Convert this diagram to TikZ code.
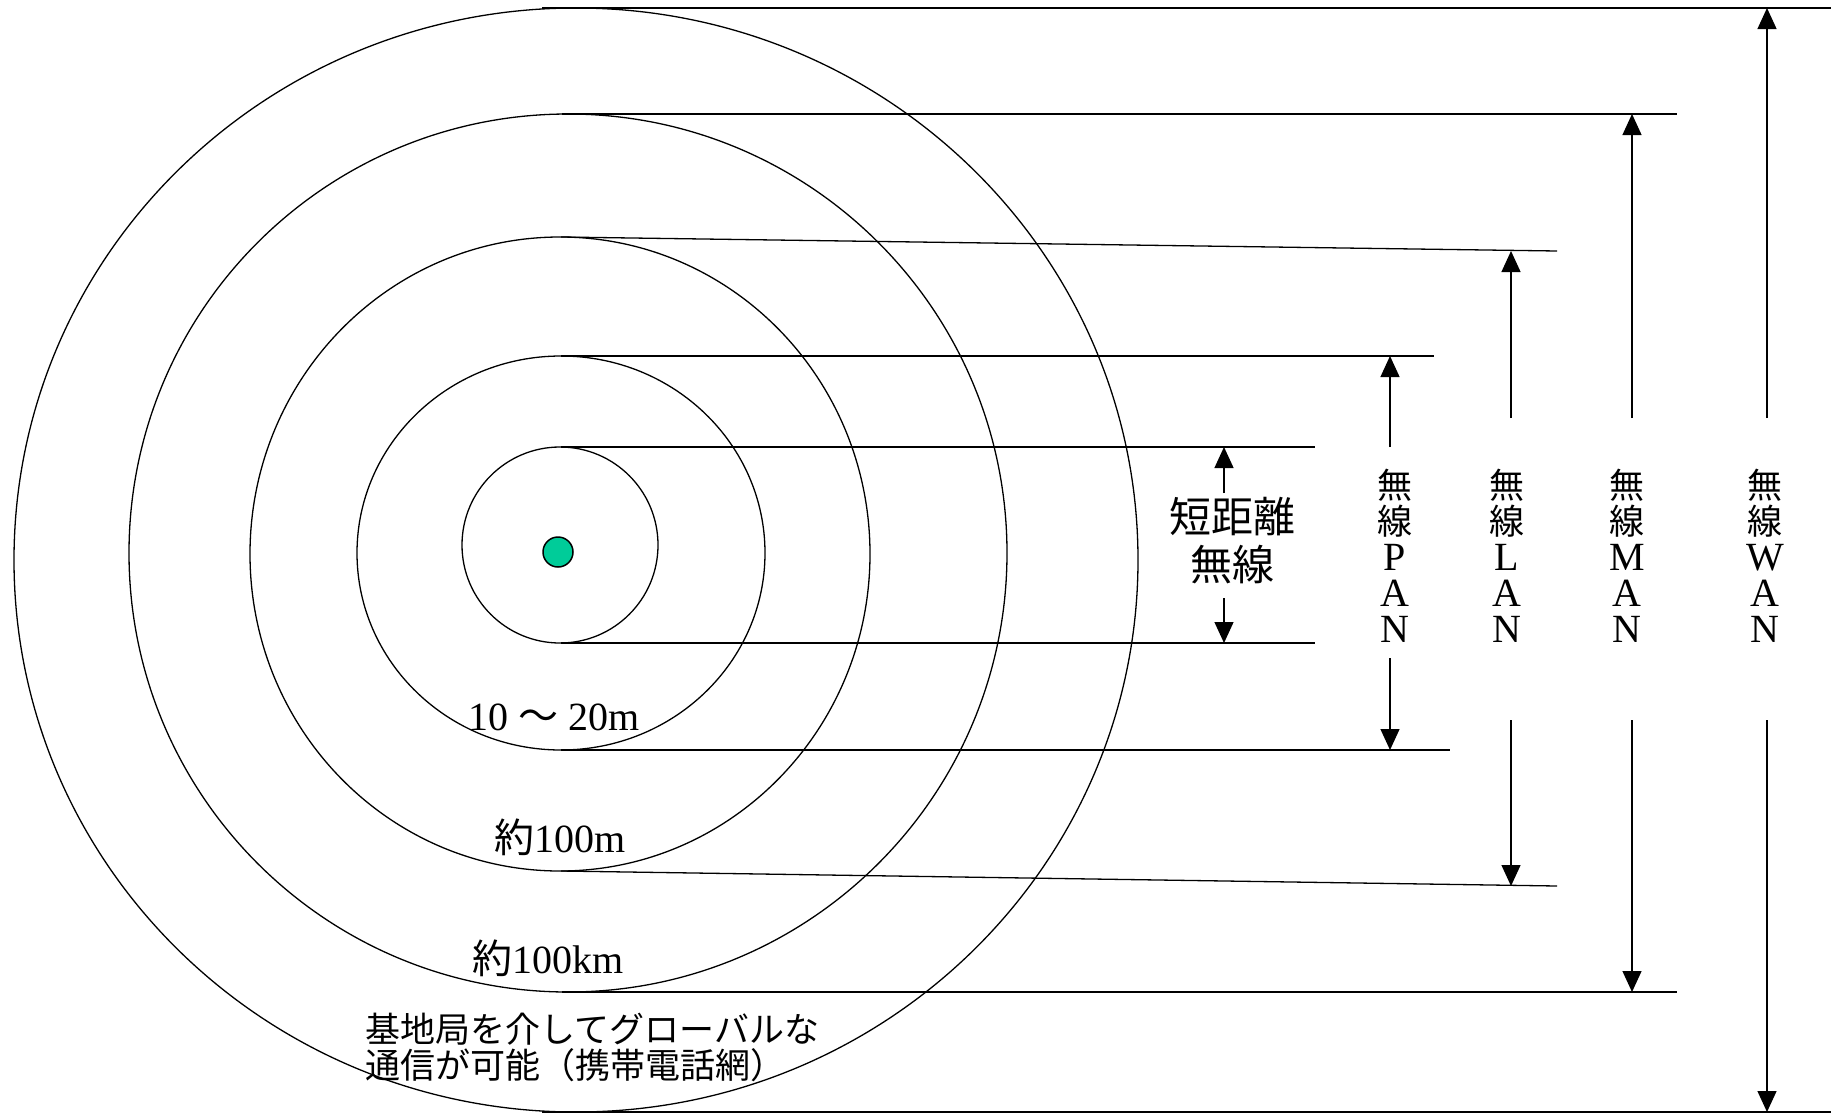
\documentclass[tikz,border=0pt]{standalone}
\usepackage{fontspec}
\setmainfont{Liberation Serif}
\newfontfamily\jp{Noto Sans CJK JP}
\usetikzlibrary{arrows.meta}
\definecolor{dotgreen}{RGB}{0,204,153}
\newcommand{\vj}[1]{{\jp\fontsize{35}{36}\selectfont #1}}
\begin{document}
\setlength{\lineskiplimit}{-100pt}
\begin{tikzpicture}[x=1pt,y=-1pt, line width=1.3pt,
  ring/.style={draw=black},
  rule/.style={draw=black},
  dim/.style={draw=black,-{Triangle[length=21pt,width=19pt]}},
  lbl/.style={font=\fontsize{40}{44}\selectfont, inner sep=0pt},
  vlbl/.style={align=center, inner sep=0pt, font=\fontsize{40}{36}\selectfont},
  jlbl/.style={align=center, inner sep=0pt, font=\jp\fontsize{42}{48}\selectfont},
  note/.style={align=left, inner sep=0pt, font=\jp\fontsize{35}{36}\selectfont}]
\useasboundingbox (0,0) rectangle (1831,1114);
\fill[white] (0,0) rectangle (1831,1114);

% rings
\draw[ring] (576,560) ellipse [x radius=562pt, y radius=552pt];
\draw[ring] (568,553) ellipse [x radius=439pt, y radius=439pt];
\draw[ring] (560,554) ellipse [x radius=310pt, y radius=317pt];
\draw[ring] (561,553) ellipse [x radius=204pt, y radius=197pt];
\draw[ring] (560,545) ellipse [x radius=98pt, y radius=98pt];
\node[circle, draw, fill=dotgreen, minimum size=30pt, inner sep=0pt, line width=1.5pt] (dot) at (558,552) {};

% boundary lines
\coordinate (wanTa) at (542,8);    \coordinate (wanTb) at (1831,8);
\coordinate (wanBa) at (542,1112); \coordinate (wanBb) at (1831,1112);
\coordinate (manTa) at (562,114);  \coordinate (manTb) at (1677,114);
\coordinate (manBa) at (562,992);  \coordinate (manBb) at (1677,992);
\coordinate (lanTa) at (561,237);  \coordinate (lanTb) at (1557,251);
\coordinate (lanBa) at (561,871);  \coordinate (lanBb) at (1557,886);
\coordinate (panTa) at (561,356);  \coordinate (panTb) at (1434,356);
\coordinate (panBa) at (561,750);  \coordinate (panBb) at (1450,750);
\coordinate (srTa) at (561,447);   \coordinate (srTb) at (1315,447);
\coordinate (srBa) at (561,643);   \coordinate (srBb) at (1315,643);
\foreach \n in {wanT,wanB,manT,manB,lanT,lanB,panT,panB,srT,srB}
  \draw[rule] (\n a) -- (\n b);

% dimension arrows
\coordinate (srU) at (1224,493);  \coordinate (srUe) at (1224,447);
\coordinate (srD) at (1224,598);  \coordinate (srDe) at (1224,643);
\coordinate (panU) at (1390,447); \coordinate (panUe) at (1390,356);
\coordinate (panD) at (1390,658); \coordinate (panDe) at (1390,750);
\coordinate (lanU) at (1511,418); \coordinate (lanUe) at (1511,251);
\coordinate (lanD) at (1511,720); \coordinate (lanDe) at (1511,886);
\coordinate (manU) at (1632,418); \coordinate (manUe) at (1632,114);
\coordinate (manD) at (1632,720); \coordinate (manDe) at (1632,992);
\coordinate (wanU) at (1767,418); \coordinate (wanUe) at (1767,8);
\coordinate (wanD) at (1767,720); \coordinate (wanDe) at (1767,1112);
\foreach \n in {sr,pan,lan,man,wan}{
  \draw[dim] (\n U) -- (\n Ue);
  \draw[dim] (\n D) -- (\n De);
}

% labels
\node[jlbl] (srL) at (1232,541) {短距離\\無線};
\node[vlbl] (panL) at (1395,556) {\vj{無}\\\vj{線}\\P\\A\\N};
\node[vlbl] (lanL) at (1507,556) {\vj{無}\\\vj{線}\\L\\A\\N};
\node[vlbl] (manL) at (1627,556) {\vj{無}\\\vj{線}\\M\\A\\N};
\node[vlbl] (wanL) at (1765,556) {\vj{無}\\\vj{線}\\W\\A\\N};

\node[lbl] (r1) at (554,717) {10 {\jp ～} 20m};
\node[lbl] (r2) at (560,837) {{\jp 約}100m};
\node[lbl] (r3) at (548,958) {{\jp 約}100km};
\node[note, anchor=north west] (cell) at (365,1012) {基地局を介してグローバルな\\通信が可能（携帯電話網）};
\end{tikzpicture}
\end{document}
